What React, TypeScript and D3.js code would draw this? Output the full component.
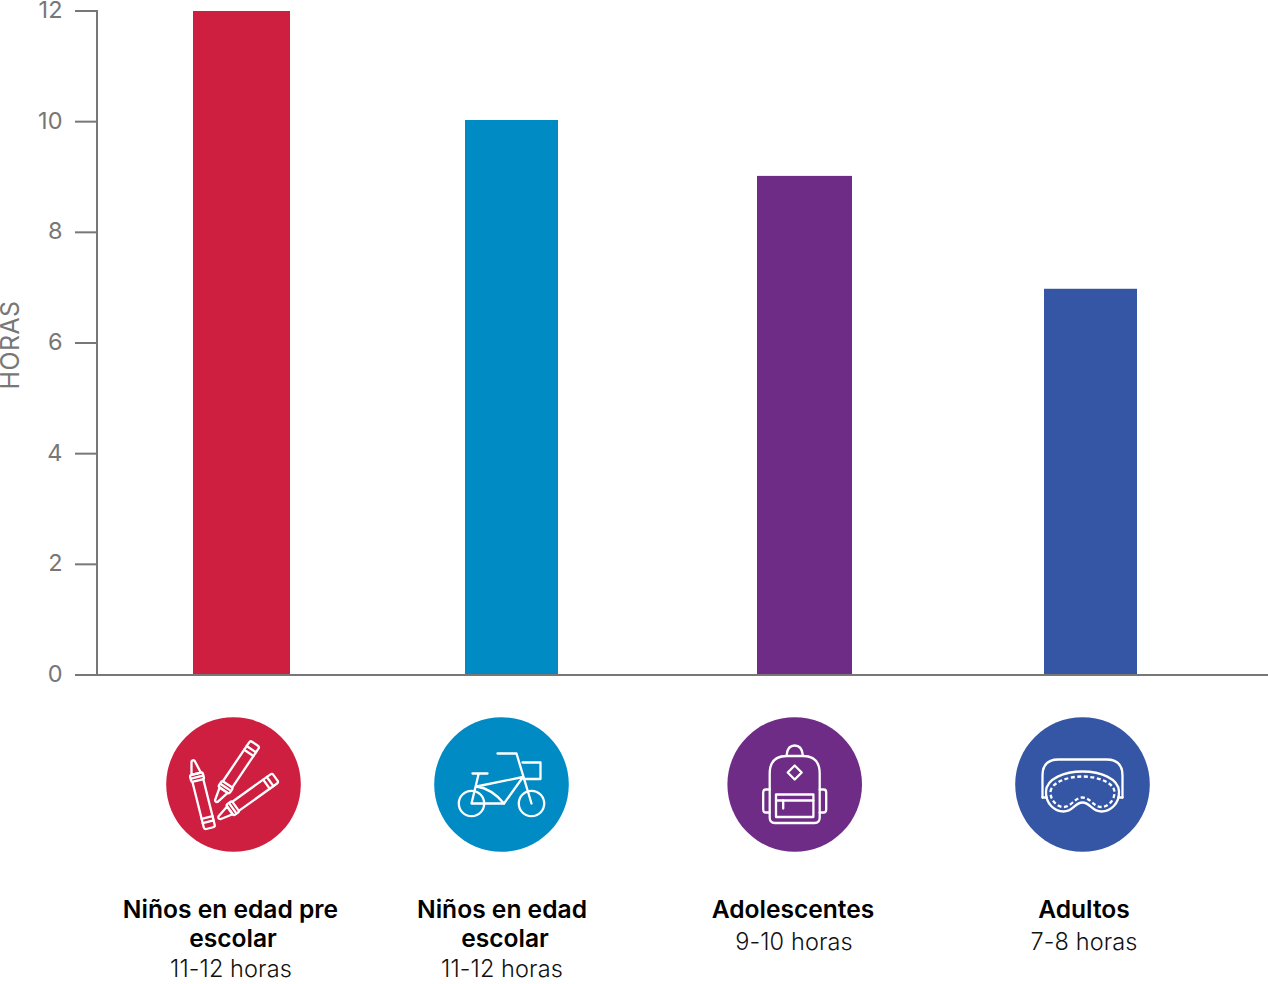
import React from "react";
import * as d3 from "d3";

const categories = ["Niños en edad pre escolar", "Niños en edad escolar", "Adolescentes", "Adultos"];
const hours = [12, 10.03, 9.02, 6.98];
const colors = ["#CE1F41", "#008BC5", "#6E2C87", "#3556A4"];
const yTicks = [0, 2, 4, 6, 8, 10, 12];
const yTitle = "HORAS";
const labelLines = [["Niños en edad pre", "escolar"], ["Niños en edad", "escolar"], ["Adolescentes"], ["Adultos"]];
const rangeLabels = ["11-12 horas", "11-12 horas", "9-10 horas", "7-8 horas"];

const W = 1268, H = 984;
const FONT = "Inter, 'Noto Sans', sans-serif";
const GREY = "#777777";

const y = d3.scaleLinear().domain([0, 12]).range([675, 11]);
const barCenter = d3.scaleOrdinal<string, number>().domain(categories).range([241.5, 511.5, 804.5, 1090.5]);
const barWidth = d3.scaleOrdinal<string, number>().domain(categories).range([97, 93, 95, 93]);
const iconCenter = d3.scaleOrdinal<string, number>().domain(categories).range([233.5, 501.5, 794.7, 1082.5]);
const labelCenter = d3.scaleOrdinal<string, number[]>().domain(categories).range([[230.5, 233, 231], [502, 505, 502], [793, 794], [1084, 1084]] as any);

const stroke = { fill: "none", stroke: "#fff", strokeWidth: 2.3, strokeLinejoin: "round" as const, strokeLinecap: "round" as const };

function Crayon({ x, y: ty, angle }: { x: number; y: number; angle: number }) {
  return (
    <g transform={`translate(${x},${ty}) rotate(${angle})`} {...stroke}>
      <path d="M-1.6,1 Q0,-0.8 1.6,1 L4.8,14 H-4.8 Z" />
      <rect x={-6.6} y={14} width={13.2} height={7} rx={1.8} />
      <line x1={-6} x2={6} y1={17.5} y2={17.5} />
      <path d="M-5.6,21 V68 Q-5.6,70 -3.6,70 H3.6 Q5.6,70 5.6,68 V21" />
      <line x1={-5.6} x2={5.6} y1={59} y2={59} />
      <line x1={-5.6} x2={5.6} y1={63.5} y2={63.5} />
    </g>
  );
}

function Crayons() {
  return (
    <>
      <Crayon x={-40.7} y={-24.3} angle={-14} />
      <Crayon x={-17.7} y={17.3} angle={-146} />
      <Crayon x={-15} y={34} angle={-125.6} />
    </>
  );
}

function Bike() {
  return (
    <g {...stroke}>
      <circle cx={-30} cy={19} r={12.7} />
      <circle cx={30} cy={19} r={12.7} />
      <path d="M-25,2 L21.5,-7.5 L2.5,19 H-30 L-23,-10" />
      <path d="M-25,2 Q-10,4 2.5,19" />
      <path d="M-29,-11 H-14" />
      <path d="M-4,-31 H15 L30,19" />
      <path d="M21,-22 H39 V-5.5 H22" />
    </g>
  );
}

function Backpack() {
  return (
    <g {...stroke}>
      <path d="M-25,-11 Q-25,-28.5 -8,-28.5 H8 Q25,-28.5 25,-11 V33 Q25,38.5 20,38.5 H-20 Q-25,38.5 -25,33 Z" />
      <path d="M-8,-30 Q-7,-39 0,-39 Q7,-39 8,-30" />
      <path d="M0,-19 L7,-12 L0,-5 L-7,-12 Z" />
      <path d="M-25,5 H-29 Q-31.5,5 -31.5,8 V25 Q-31.5,28 -29,28 H-25" />
      <path d="M25,5 H29 Q31.5,5 31.5,8 V25 Q31.5,28 29,28 H25" />
      <rect x={-18.7} y={10} width={37.4} height={22.5} />
      <line x1={-18.7} x2={18.7} y1={16} y2={16} />
      <line x1={-11.5} x2={-11.5} y1={16} y2={24} />
    </g>
  );
}

function Mask() {
  return (
    <g {...stroke}>
      <path d="M-40,13 V-9 Q-40,-25 -24,-25 H24 Q40,-25 40,-9 V13" />
      <path d="M-40,13 H-36 M40,13 H36" />
      <path d="M-36.5,7 C-36,-6 -18,-13 0,-13 C18,-13 36,-6 36.5,7 C37,19 28,27 19,27 C9,27 8,18 0,18 C-8,18 -9,27 -19,27 C-28,27 -37,19 -36.5,7 Z" />
      <path strokeDasharray="4 2.5" strokeLinecap="butt" d="M-32,7 C-31,-2 -15,-8 0,-8 C15,-8 31,-2 32,7 C32.5,16 25,22.5 19,22.5 C11,22.5 8,13 0,13 C-8,13 -11,22.5 -19,22.5 C-25,22.5 -32.5,16 -32,7 Z" />
    </g>
  );
}

const icons = [Crayons, Bike, Backpack, Mask];

export default function App() {
  return (
    <svg width={W} height={H} viewBox={`0 0 ${W} ${H}`} style={{ position: "absolute", left: 0, top: 0, display: "block", background: "#fff" }} fontFamily={FONT}>
      {categories.map((c, i) => (
        <rect key={c} x={barCenter(c) - barWidth(c) / 2} y={y(hours[i])} width={barWidth(c)} height={y(0) - y(hours[i])} fill={colors[i]} />
      ))}
      <line x1={97} x2={97} y1={y(12) - 1} y2={y(0)} stroke={GREY} strokeWidth={2} />
      <line x1={75} x2={W} y1={y(0)} y2={y(0)} stroke={GREY} strokeWidth={2} />
      {yTicks.map((t) => (
        <g key={t}>
          <line x1={75} x2={97} y1={y(t)} y2={y(t)} stroke={GREY} strokeWidth={2} />
          <text x={62.5} y={y(t) + 7} textAnchor="end" fontSize={23.5} fontWeight={400} fill={GREY}>{t}</text>
        </g>
      ))}
      <text transform="translate(18.5,345) rotate(-90)" textAnchor="middle" fontSize={25} fontWeight={400} letterSpacing={0.4} fill={GREY}>{yTitle}</text>
      {categories.map((c, i) => {
        const Icon = icons[i];
        const cx = iconCenter(c);
        const centers = labelCenter(c);
        const lines = labelLines[i];
        const rangeY = lines.length === 2 ? 977 : 950;
        return (
          <g key={c}>
            <circle cx={cx} cy={784.5} r={67.3} fill={colors[i]} />
            <g transform={`translate(${cx},784.5)`}><Icon /></g>
            {lines.map((l, j) => (
              <text key={l} x={centers[j]} y={917.5 + j * 29} textAnchor="middle" fontSize={24.6} fontWeight={600} fill="#000">{l}</text>
            ))}
            <text x={centers[lines.length]} y={rangeY} textAnchor="middle" fontSize={23.5} fontWeight={300} letterSpacing={0.1} fill="#111">{rangeLabels[i]}</text>
          </g>
        );
      })}
    </svg>
  );
}
